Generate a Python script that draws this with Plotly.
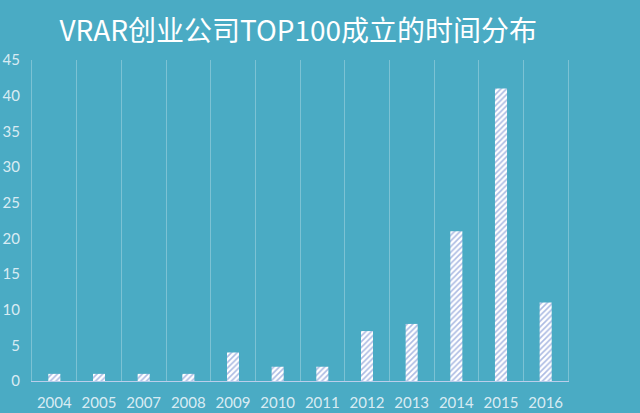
import plotly.graph_objects as go

years = ["2004", "2005", "2007", "2008", "2009", "2010", "2011", "2012", "2013", "2014", "2015", "2016"]
counts = [1, 1, 1, 1, 4, 2, 2, 7, 8, 21, 41, 11]
y_ticks = [0, 5, 10, 15, 20, 25, 30, 35, 40, 45]

bg = "rgb(74,171,196)"
grid = "rgba(255,255,255,0.28)"

fig = go.Figure(go.Bar(
    x=years, y=counts,
    marker=dict(
        color="white",
        line=dict(width=0),
        pattern=dict(shape="/", fgcolor="rgb(90,120,200)", bgcolor="white", size=4, solidity=0.4),
    ),
))

fig.update_layout(
    width=640, height=413,
    paper_bgcolor=bg, plot_bgcolor=bg,
    margin=dict(l=32, r=72, t=60, b=32, autoexpand=False),
    bargap=0.73,
    showlegend=False,
    title=dict(text="VRAR创业公司TOP100成立的时间分布", x=0.466, xanchor="center", y=0.925, yanchor="middle",
               font=dict(family="Noto Sans CJK SC", size=28, color="white")),
    font=dict(family="Lato", color="rgba(235,245,250,0.9)", size=15),
)
fig.update_xaxes(
    type="category", tickson="boundaries", showgrid=True,
    gridcolor=grid, gridwidth=1,
    showline=True, linecolor="rgba(200,210,240,0.9)", linewidth=1,
    ticks="", ticklabelstandoff=8, automargin=False,
)
fig.update_yaxes(
    range=[0, 45], tickvals=y_ticks, showgrid=False, zeroline=False,
    showline=True, linecolor=grid, linewidth=1, mirror=True,
    ticks="", ticklabelstandoff=8, automargin=False,
)

fig.write_html(
    "out.html",
    config={"displayModeBar": False},
    post_script="document.body.style.margin='0';document.body.style.background='rgb(74,171,196)';",
)
